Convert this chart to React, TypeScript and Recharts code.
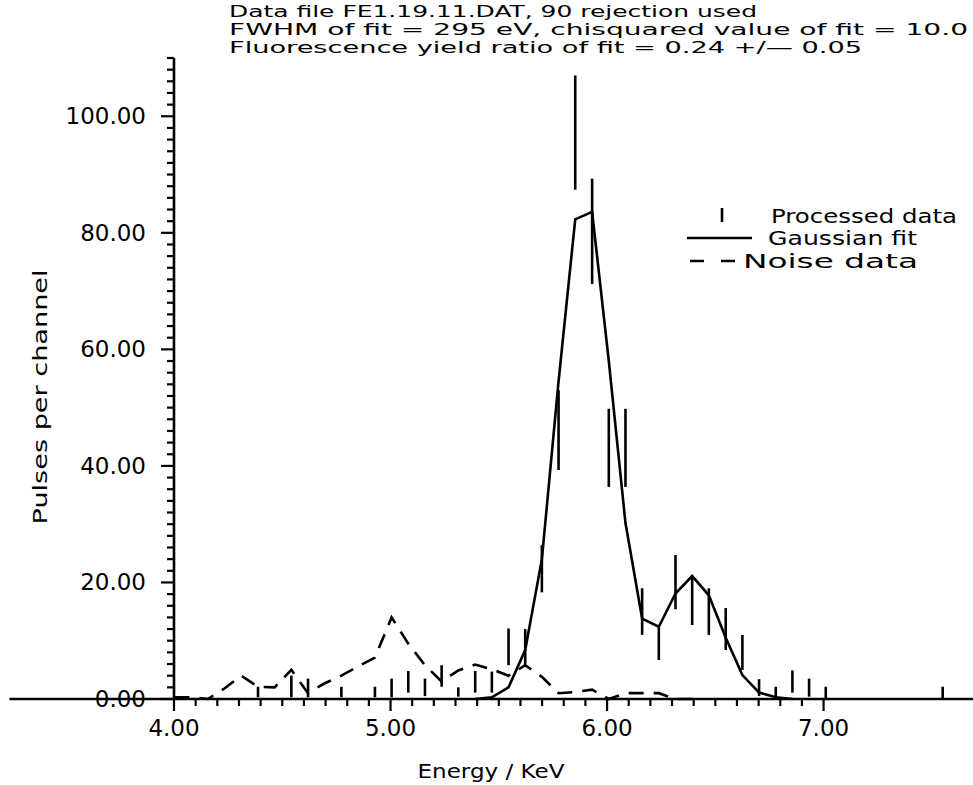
import React from 'react';
import {
  ComposedChart,
  XAxis,
  YAxis,
  Line,
  Scatter,
  ErrorBar,
  ReferenceLine,
  Legend,
} from 'recharts';

const FONT = '"DejaVu Sans", "Liberation Sans", sans-serif';

// processed data: channel energy (keV) and the ends of each error bar
const pdEnergy = [4.388, 4.542, 4.619, 4.773, 4.928, 5.005, 5.082, 5.159, 5.236, 5.313, 5.391, 5.468, 5.545, 5.622, 5.699, 5.776, 5.853, 5.931, 6.008, 6.085, 6.162, 6.239, 6.316, 6.393, 6.47, 6.548, 6.625, 6.702, 6.779, 6.856, 6.933, 7.01, 7.55];
const pdLow = [0.3, 0.3, 0.3, 0.3, 0.3, 0.3, 1.1, 0.5, 2.1, 0.4, 1.1, 1.1, 5.8, 5.7, 18.3, 39.3, 87.4, 71.2, 36.4, 36.4, 11.0, 6.7, 15.4, 12.7, 11.0, 8.4, 5.0, 0.5, 0.1, 1.1, 0.4, 0.1, 0.1];
const pdHigh = [2.1, 4.0, 3.5, 2.1, 2.1, 3.5, 4.8, 3.5, 5.8, 2.0, 4.8, 4.7, 12.1, 12.0, 26.4, 53.0, 107.0, 89.3, 49.8, 49.8, 19.0, 12.3, 24.7, 21.1, 19.0, 15.6, 11.0, 3.4, 2.1, 4.9, 3.5, 2.1, 2.1];

// gaussian fit
const fitEnergy = [5.391, 5.468, 5.545, 5.622, 5.699, 5.776, 5.853, 5.931, 6.008, 6.085, 6.162, 6.239, 6.316, 6.393, 6.47, 6.548, 6.625, 6.702, 6.779, 6.856];
const fitValue = [0.0, 0.3, 2.0, 8.4, 24.0, 54.5, 82.3, 83.6, 58.0, 30.2, 13.8, 12.4, 18.1, 21.1, 17.8, 10.5, 4.1, 1.1, 0.3, 0.0];

// noise data
const noiseEnergy = [4.002, 4.079, 4.156, 4.233, 4.311, 4.388, 4.465, 4.542, 4.619, 4.696, 4.773, 4.851, 4.928, 5.005, 5.082, 5.159, 5.236, 5.313, 5.391, 5.468, 5.545, 5.622, 5.699, 5.776, 5.853, 5.931, 6.008, 6.085, 6.162, 6.239, 6.316, 6.393];
const noiseValue = [0.3, 0.3, 0.0, 1.8, 4.0, 2.1, 2.0, 5.0, 1.0, 2.7, 4.0, 5.6, 7.1, 14.0, 9.5, 5.8, 3.0, 4.9, 5.9, 5.1, 4.0, 5.8, 3.8, 1.0, 1.2, 1.6, 0.0, 1.0, 1.0, 1.0, 0.0, 0.0];

const titleLines = [
  'Data file FE1.19.11.DAT, 90 rejection used',
  'FWHM of fit = 295 eV, chisquared value of fit = 10.0',
  'Fluorescence yield ratio of fit = 0.24 +/\u2014 0.05',
];
const titleWidths = [528, 739, 633];

const xTicks = Array.from({ length: 31 }, (_, i) => +(4 + i * 0.1).toFixed(1));
const yTicks = Array.from({ length: 56 }, (_, i) => i * 2);

const processed = pdEnergy.map((e, i) => ({
  x: e,
  y: (pdLow[i] + pdHigh[i]) / 2,
  err: (pdHigh[i] - pdLow[i]) / 2,
}));
const fit = fitEnergy.map((e, i) => ({ x: e, y: fitValue[i] }));
const noise = noiseEnergy.map((e, i) => ({ x: e, y: noiseValue[i] }));

const SW = 2.6;

function XTick({ x, y, payload }: any) {
  const v = payload.value as number;
  const major = Math.abs(v - Math.round(v)) < 1e-6;
  return (
    <g>
      <line x1={x} y1={y} x2={x} y2={y + (major ? 12 : 7)} stroke="#000" strokeWidth={2.2} />
      {major && (
        <text x={x} y={y + 37} textAnchor="middle" fontFamily={FONT} fontSize={23} fill="#000">
          {v.toFixed(2)}
        </text>
      )}
    </g>
  );
}

function YTick({ x, y, payload }: any) {
  const v = payload.value as number;
  const major = v % 20 === 0;
  return (
    <g>
      <line x1={x - (major ? 13 : 7)} y1={y} x2={x} y2={y} stroke="#000" strokeWidth={2.2} />
      {major && (
        <text x={x - 28} y={y + 8} textAnchor="end" fontFamily={FONT} fontSize={23} fill="#000">
          {v.toFixed(2)}
        </text>
      )}
    </g>
  );
}

function LegendBox() {
  const txt = { fontFamily: FONT, fontSize: 20, fill: '#000', lengthAdjust: 'spacingAndGlyphs' as const };
  return (
    <svg width={293} height={80}>
      <line x1={42} y1={8} x2={42} y2={22} stroke="#000" strokeWidth={SW} />
      <text x={91} y={23} textLength={186} {...txt}>Processed data</text>
      <line x1={7} y1={38} x2={72} y2={38} stroke="#000" strokeWidth={SW} />
      <text x={88} y={45} textLength={149} {...txt}>Gaussian fit</text>
      <line x1={10} y1={61} x2={55} y2={61} stroke="#000" strokeWidth={SW} strokeDasharray="14 17" />
      <text x={63} y={68} textLength={175} {...txt}>Noise data</text>
    </svg>
  );
}

export default function App() {
  return (
    <div style={{ position: 'absolute', left: 0, top: 0, background: '#fff' }}>
      <ComposedChart
        width={973}
        height={785}
        margin={{ top: 58, right: 0, bottom: 30, left: 74 }}
      >
        <XAxis
          type="number"
          dataKey="x"
          domain={[4, 7.69]}
          ticks={xTicks}
          interval={0}
          height={56}
          tickSize={0}
          tickMargin={0}
          tickLine={false}
          tick={<XTick />}
          axisLine={{ stroke: '#000', strokeWidth: SW }}
        />
        <YAxis
          type="number"
          dataKey="y"
          domain={[0, 110]}
          ticks={yTicks}
          interval={0}
          width={100}
          tickSize={0}
          tickMargin={0}
          tickLine={false}
          tick={<YTick />}
          axisLine={{ stroke: '#000', strokeWidth: SW }}
        />
        <ReferenceLine
          segment={[{ x: 3.24, y: 0 }, { x: 4, y: 0 }]}
          ifOverflow="visible"
          stroke="#000"
          strokeWidth={SW}
        />
        <Line
          data={noise}
          dataKey="y"
          type="linear"
          stroke="#000"
          strokeWidth={SW}
          strokeDasharray="15 10"
          dot={false}
          isAnimationActive={false}
        />
        <Line
          data={fit}
          dataKey="y"
          type="linear"
          stroke="#000"
          strokeWidth={SW}
          dot={false}
          isAnimationActive={false}
        />
        <Scatter data={processed} dataKey="y" shape={() => <g />} isAnimationActive={false}>
          <ErrorBar dataKey="err" direction="y" width={0} stroke="#000" strokeWidth={SW} isAnimationActive={false} />
        </Scatter>
        <Legend
          layout="vertical"
          align="center"
          verticalAlign="middle"
          wrapperStyle={{ left: 680, top: 200, width: 293, height: 80 }}
          content={() => <LegendBox />}
        />
        {titleLines.map((t, i) => (
          <text
            key={i}
            x={229}
            y={17 + i * 18}
            fontFamily={FONT}
            fontSize={16}
            textLength={titleWidths[i]}
            lengthAdjust="spacingAndGlyphs"
            fill="#000"
          >
            {t}
          </text>
        ))}
        <text x={491} y={778} textAnchor="middle" fontFamily={FONT} fontSize={20} textLength={147} lengthAdjust="spacingAndGlyphs" fill="#000">
          Energy / KeV
        </text>
        <text
          x={0}
          y={0}
          transform="translate(47 397) rotate(-90)"
          textAnchor="middle"
          fontFamily={FONT}
          fontSize={20}
          textLength={255}
          lengthAdjust="spacingAndGlyphs"
          fill="#000"
        >
          Pulses per channel
        </text>
      </ComposedChart>
    </div>
  );
}
